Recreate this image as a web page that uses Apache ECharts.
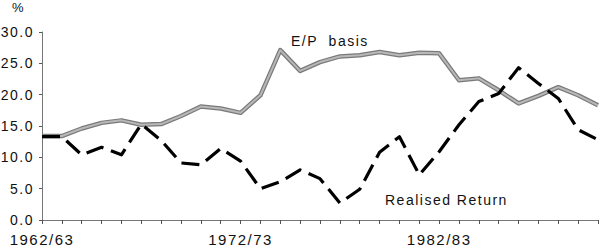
<!DOCTYPE html>
<html>
<head>
<meta charset="utf-8">
<script src="https://cdn.jsdelivr.net/npm/echarts@6/dist/echarts.min.js"></script>
<style>
html,body{margin:0;padding:0;background:#fff;}
#chart{width:600px;height:249px;}
#chart text{letter-spacing:1.5px;}
</style>
</head>
<body>
<div id="chart"></div>
<script>
// Financial years 1962/63 .. 1990/91
var years = ["1962/63","1963/64","1964/65","1965/66","1966/67","1967/68","1968/69","1969/70","1970/71","1971/72",
             "1972/73","1973/74","1974/75","1975/76","1976/77","1977/78","1978/79","1979/80","1980/81","1981/82",
             "1982/83","1983/84","1984/85","1985/86","1986/87","1987/88","1988/89","1989/90","1990/91"];
// E/P basis (%)
var epBasis = [13.4, 13.4, 14.6, 15.5, 15.9, 15.2, 15.3, 16.6, 18.1, 17.8,
               17.1, 19.9, 27.1, 23.8, 25.2, 26.1, 26.3, 26.8, 26.3, 26.7,
               26.6, 22.3, 22.6, 20.7, 18.6, 19.8, 21.2, 19.9, 18.3];
// Realised return (%)
var realised = [13.3, 13.3, 10.4, 11.6, 10.4, 15.3, 12.7, 9.1, 8.8, 11.4,
                9.4, 5.0, 6.1, 8.0, 6.6, 2.7, 4.9, 10.8, 13.3, 7.2,
                10.9, 15.2, 18.9, 20.2, 24.3, 21.8, 19.4, 14.4, 12.8];
var yTicks = {min: 0, max: 30, interval: 5};

var chart = echarts.init(document.getElementById('chart'), null, {renderer: 'svg'});
var font = "'Liberation Sans', Arial, sans-serif";
chart.setOption({
  animation: false,
  backgroundColor: '#ffffff',
  grid: {left: 42, right: 2, top: 32, bottom: 29},
  xAxis: {
    type: 'category',
    data: years,
    boundaryGap: false,
    axisLine: {lineStyle: {color: '#777', width: 1}},
    axisTick: {show: true, interval: 0, length: 4, lineStyle: {color: '#555'}},
    axisLabel: {interval: 9, margin: 12, color: '#111', fontSize: 15, fontFamily: font,
      alignMinLabel: 'center', alignMaxLabel: 'center'},
    splitLine: {show: false}
  },
  yAxis: {
    type: 'value',
    min: yTicks.min, max: yTicks.max, interval: yTicks.interval,
    axisLine: {show: true, lineStyle: {color: '#777', width: 1}},
    axisTick: {show: true, length: 3, lineStyle: {color: '#555'}},
    axisLabel: {margin: 8, color: '#111', fontSize: 14, fontFamily: font,
      formatter: function (v) { return v.toFixed(1); }},
    splitLine: {show: false}
  },
  graphic: [
    {type: 'text', left: 12, top: 1, style: {text: '%', fontSize: 13, fontFamily: font, fill: '#111'}},
    {type: 'text', left: 291, top: 34, style: {text: 'E/P  basis', fontSize: 14, fontFamily: font, fill: '#111'}},
    {type: 'text', left: 385, top: 193, style: {text: 'Realised Return', fontSize: 14, fontFamily: font, fill: '#111'}}
  ],
  series: [
    {name: 'E/P basis', type: 'line', data: epBasis, showSymbol: false, z: 2,
      lineStyle: {color: '#7a7a7a', width: 4.5, join: 'round'}},
    {name: 'E/P basis inner', type: 'line', data: epBasis, showSymbol: false, z: 3,
      lineStyle: {color: '#b8b8b8', width: 2, join: 'round'}},
    {name: 'Realised Return', type: 'line', data: realised, showSymbol: false, z: 4,
      lineStyle: {color: '#000', width: 3.2, type: [18, 8], cap: 'butt', join: 'round'}}
  ]
});
</script>
</body>
</html>
